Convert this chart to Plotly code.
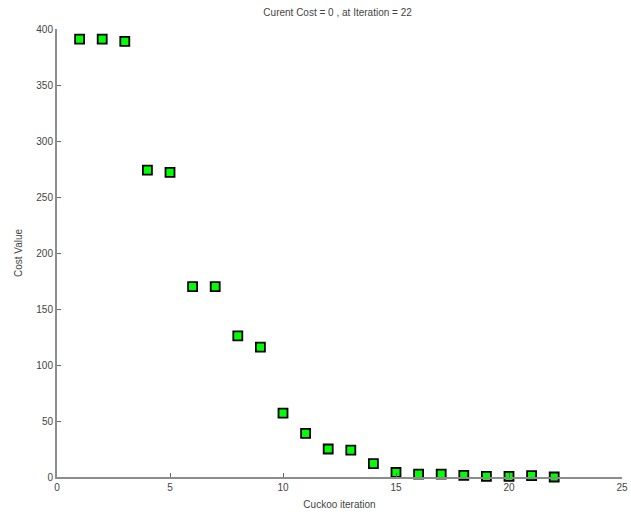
import plotly.graph_objects as go

iterations = list(range(1, 23))
cost_values = [391, 391, 389, 274, 272, 170, 170, 126, 116, 57, 39, 25, 24, 12,
               4, 2.5, 2.5, 1.5, 0.6, 0.6, 1.2, 0]
x_ticks = [0, 5, 10, 15, 20, 25]
y_ticks = [0, 50, 100, 150, 200, 250, 300, 350, 400]
title_text = "Curent Cost = 0 , at Iteration = 22"
x_title = "Cuckoo iteration"
y_title = "Cost Value"

font = dict(family="Liberation Sans, Arial", size=10, color="#444")

fig = go.Figure()
fig.add_trace(go.Scatter(
    x=iterations, y=cost_values, mode="markers",
    marker=dict(symbol="square", size=9, color="#00ff00",
                line=dict(color="black", width=1.8)),
    cliponaxis=False, showlegend=False,
))

axis_common = dict(
    showgrid=False, zeroline=False, showline=True, linecolor="#8c8c8c",
    linewidth=2, ticks="inside", ticklen=4, tickwidth=1, tickcolor="#666",
    tickfont=font, automargin=False,
)
fig.update_xaxes(range=[0, 25], tickvals=x_ticks, **axis_common,
                 title=dict(text=x_title, standoff=9, font=font))
fig.update_yaxes(range=[0, 400], tickvals=y_ticks, **axis_common,
                 title=dict(text=y_title, standoff=12, font=font))

fig.update_layout(
    width=631, height=517,
    margin=dict(l=57, r=9, t=29, b=40),
    plot_bgcolor="white", paper_bgcolor="white",
    title=dict(text=title_text, x=0.535, xanchor="center", yref="container",
               y=0.982, yanchor="top", pad=dict(t=0, b=0), font=font),
)
fig.write_html("out.html", config={"displayModeBar": False},
               post_script="document.body.style.margin='0';document.body.style.overflow='hidden';")
